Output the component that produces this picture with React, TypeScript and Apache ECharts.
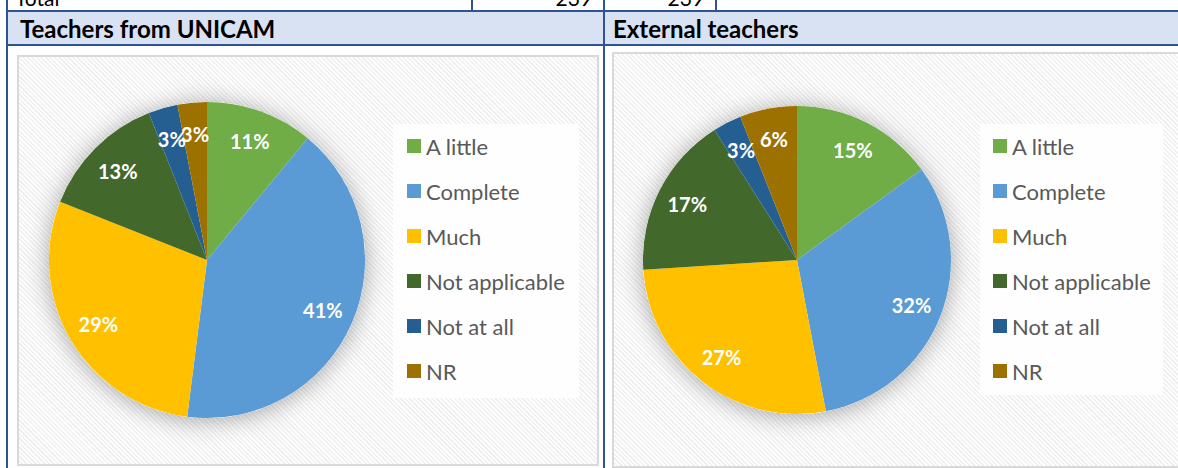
import React, { useEffect, useRef } from 'react';
import * as echarts from 'echarts';

const categories = ['A little', 'Complete', 'Much', 'Not applicable', 'Not at all', 'NR'];
const unicamValues = [11, 41, 29, 13, 3, 3];
const externalValues = [15, 32, 27, 17, 3, 6];
const colors = ['#70AD47', '#5B9BD5', '#FFC000', '#43682B', '#255E91', '#9C7100'];
const headerTitles = ['Teachers from UNICAM', 'External teachers'];
const topRowLabel = 'Total';
const topRowValues = ['239', '239'];

const W = 1178;
const H = 468;
const LINE = '#2F5496';
const FONT = 'Lato, "Open Sans", sans-serif';

function pieSeries(values: number[], center: [number, number], r: number) {
  const data = categories.map((name, i) => ({ name, value: values[i], itemStyle: { color: colors[i] } }));
  return [
    {
      type: 'pie', center, radius: r, silent: true, z: 1,
      data: [{ value: 1, name: '_bg' }],
      itemStyle: { color: '#ffffff', shadowBlur: 24, shadowColor: 'rgba(0,0,0,0.35)', shadowOffsetY: 2 },
      label: { show: false }, labelLine: { show: false },
    },
    {
      type: 'pie', center, radius: r, startAngle: 90, silent: true, z: 2,
      data, label: { show: false }, labelLine: { show: false },
    },
    {
      type: 'pie', center, radius: [r * 0.56, r], startAngle: 90, silent: true, z: 3,
      avoidLabelOverlap: false,
      labelLayout: { hideOverlap: false },
      data: categories.map((name, i) => ({ name, value: values[i] })),
      itemStyle: { color: 'transparent' },
      label: {
        show: true, position: 'inside', formatter: (p: any) => p.value + '%',
        color: '#ffffff', fontWeight: 'bold', fontSize: 20, fontFamily: FONT,
      },
      labelLine: { show: false },
    },
  ];
}

const hatch =
  'repeating-linear-gradient(45deg, #ffffff 0px, #ffffff 1.6px, #f0f0f0 1.6px, #f0f0f0 3.2px)';

export default function App() {
  const ref = useRef<HTMLDivElement>(null);
  useEffect(() => {
    if (!ref.current) return;
    const chart = echarts.init(ref.current, undefined, { renderer: 'svg', width: W, height: H });
    const legendData = categories.map((name, i) => ({ name, itemStyle: { color: colors[i] } }));
    const legendBase = {
      orient: 'vertical', top: 134, padding: 0, itemWidth: 14, itemHeight: 14, itemGap: 21, icon: 'rect',
      selectedMode: false,
      textStyle: { fontSize: 22, color: '#595959', fontFamily: FONT, lineHeight: 24 },
      data: legendData,
    };
    chart.setOption({
      animation: false,
      legend: [
        { ...legendBase, left: 407 },
        { ...legendBase, left: 993 },
      ],
      graphic: [
        { type: 'rect', shape: { x: 393, y: 124, width: 186, height: 274 }, style: { fill: 'rgba(255,255,255,0.85)' }, z: 0 },
        { type: 'rect', shape: { x: 980, y: 124, width: 183, height: 271 }, style: { fill: 'rgba(255,255,255,0.85)' }, z: 0 },
        { type: 'rect', shape: { x: 8, y: 11, width: W - 8, height: 34 }, style: { fill: '#D9E2F3' }, z: 0 },
        { type: 'line', shape: { x1: 7, y1: 11, x2: W, y2: 11 }, style: { stroke: LINE, lineWidth: 2 }, z: 5 },
        { type: 'line', shape: { x1: 7, y1: 45, x2: W, y2: 45 }, style: { stroke: LINE, lineWidth: 2 }, z: 5 },
        { type: 'line', shape: { x1: 7, y1: 0, x2: 7, y2: H }, style: { stroke: LINE, lineWidth: 2 }, z: 5 },
        { type: 'line', shape: { x1: 604, y1: 0, x2: 604, y2: H }, style: { stroke: LINE, lineWidth: 2 }, z: 5 },
        { type: 'line', shape: { x1: 472, y1: 0, x2: 472, y2: 11 }, style: { stroke: LINE, lineWidth: 2 }, z: 5 },
        { type: 'line', shape: { x1: 716, y1: 0, x2: 716, y2: 11 }, style: { stroke: LINE, lineWidth: 2 }, z: 5 },
        { type: 'text', x: 15, y: -3, style: { text: topRowLabel, fontSize: 21, fontFamily: FONT, fill: '#000', verticalAlign: 'middle' }, z: 5 },
        { type: 'text', x: 592, y: -3, style: { text: topRowValues[0], fontSize: 21, fontFamily: FONT, fill: '#000', align: 'right', verticalAlign: 'middle' }, z: 5 },
        { type: 'text', x: 704, y: -3, style: { text: topRowValues[1], fontSize: 21, fontFamily: FONT, fill: '#000', align: 'right', verticalAlign: 'middle' }, z: 5 },
        { type: 'text', x: 20, y: 28, style: { text: headerTitles[0], fontSize: 24, fontWeight: 'bold', fontFamily: FONT, fill: '#000', verticalAlign: 'middle' }, z: 5 },
        { type: 'text', x: 613, y: 28, style: { text: headerTitles[1], fontSize: 24, fontWeight: 'bold', fontFamily: FONT, fill: '#000', verticalAlign: 'middle' }, z: 5 },
      ],
      series: [
        ...pieSeries(unicamValues, [207, 260], 158),
        ...pieSeries(externalValues, [797, 260], 154),
      ],
    });
    return () => chart.dispose();
  }, []);
  return (
    <div style={{ position: 'absolute', left: 0, top: 0, width: W, height: H, background: '#fff', overflow: 'hidden' }}>
      <div style={{ position: 'absolute', left: 17, top: 55, width: 578, height: 407, border: '2px solid #D9D9D9', background: hatch }} />
      <div style={{ position: 'absolute', left: 612, top: 52, width: 580, height: 412, border: '2px solid #D9D9D9', background: hatch }} />
      <div ref={ref} style={{ position: 'absolute', left: 0, top: 0, width: W, height: H }} />
    </div>
  );
}
